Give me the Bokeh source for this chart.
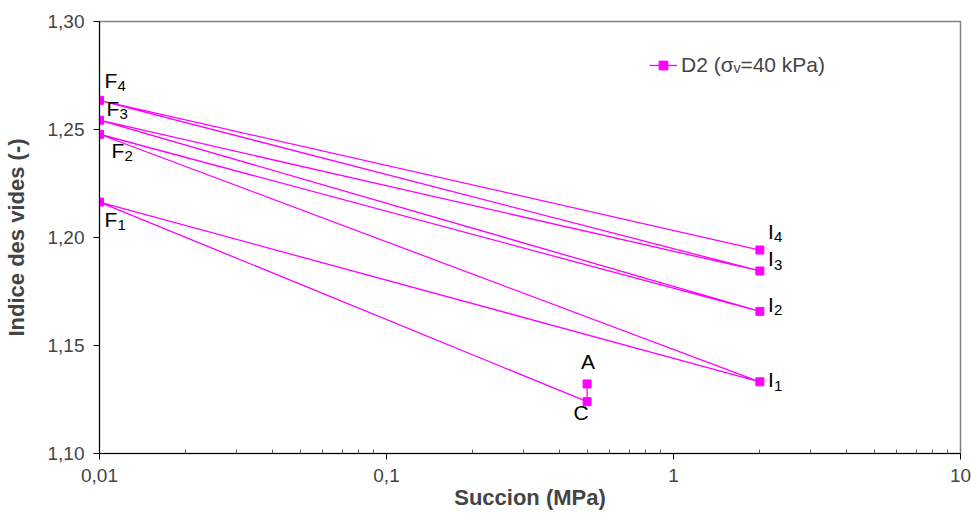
from bokeh.plotting import figure
from bokeh.models import (FixedTicker, CustomJSTickFormatter, ColumnDataSource,
                          Legend, LegendItem)
from bokeh.core.properties import value
from bokeh.embed import file_html
from bokeh.resources import INLINE

# ---- data (path order: A, C, F1, I1, F2, I2, F3, I3, F4, I4) ----
succion = [0.5, 0.5, 0.01, 2.0, 0.01, 2.0, 0.01, 2.0, 0.01, 2.0]
indice = [1.1322, 1.1240, 1.2164, 1.1332, 1.2478, 1.1658, 1.2543, 1.1845, 1.2635, 1.1942]
point_main = ["A", "C", "F", "I", "F", "I", "F", "I", "F", "I"]
point_sub = ["", "", "1", "1", "2", "2", "3", "3", "4", "4"]
series_name = "D2 (σᵥ=40 kPa)"

x_ticks = [0.01, 0.1, 1, 10]
y_ticks = [1.10, 1.15, 1.20, 1.25, 1.30]

# label placement (screen px offsets of main letter)
lab_dx = [1, -6, 5, 8, 12, 8, 7, 8, 5, 8]
lab_dy = [-22, 11, 17, -2, 16, -7, -12, -12, -20, -19]
lab_align = ["center", "center", "left", "left", "left", "left", "left", "left", "left", "left"]
main_w = {"A": 0, "C": 0, "F": 13, "I": 6}

FONT = "Liberation Sans"
MAG = "#FF00FF"

p = figure(width=971, height=516, x_axis_type="log", x_range=(0.01, 10),
           y_range=(1.10, 1.30), output_backend="svg", toolbar_location=None,
           min_border_left=98, min_border_right=11, min_border_top=21,
           min_border_bottom=63)

src = ColumnDataSource(dict(x=succion, y=indice))
ln = p.line("x", "y", source=src, line_color=MAG, line_width=1.3)
sq = p.scatter("x", "y", source=src, marker="square", size=8, fill_color=MAG,
               line_color=MAG)

# labels
main_src = ColumnDataSource(dict(
    x=succion, y=indice, t=point_main, dx=lab_dx, dy=lab_dy, al=lab_align))
p.text("x", "y", text="t", source=main_src, x_offset="dx", y_offset="dy",
       text_align="al", text_baseline="alphabetic", text_font=value(FONT),
       text_font_size="21px", text_color="black")
sub_dx = [d + main_w[m] for d, m in zip(lab_dx, point_main)]
sub_dy = [d + 6 for d in lab_dy]
sub_src = ColumnDataSource(dict(x=succion, y=indice, t=point_sub, dx=sub_dx, dy=sub_dy))
p.text("x", "y", text="t", source=sub_src, x_offset="dx", y_offset="dy",
       text_align="left", text_baseline="alphabetic", text_font=value(FONT),
       text_font_size="15px", text_color="black")

# axes
p.xaxis.ticker = FixedTicker(ticks=x_ticks,
                             minor_ticks=[m * d for d in [0.01, 0.1, 1] for m in range(2, 10)])
p.xaxis.formatter = CustomJSTickFormatter(code="return String(tick).replace('.', ',');")
p.yaxis.ticker = FixedTicker(ticks=y_ticks, minor_ticks=[])
p.yaxis.formatter = CustomJSTickFormatter(code="return tick.toFixed(2).replace('.', ',');")

p.xaxis.axis_label = "Succion (MPa)"
p.yaxis.axis_label = "Indice des vides (-)"
for ax in (p.xaxis[0], p.yaxis[0]):
    ax.axis_label_text_font = FONT
    ax.axis_label_text_font_style = "bold"
    ax.axis_label_text_font_size = "22px"
    ax.major_label_text_font = FONT
    ax.major_label_text_font_size = "19px"
    ax.axis_line_color = "black"
    ax.major_tick_line_color = "black"
    ax.minor_tick_line_color = "#555555"
    ax.major_tick_out = 6
    ax.major_tick_in = 0
p.xaxis.minor_tick_in = 4
p.xaxis.minor_tick_out = 0
p.xaxis.major_label_standoff = 9
p.xaxis.axis_label_standoff = 0
p.yaxis.major_label_standoff = 9
p.yaxis.axis_label_standoff = 16

p.xgrid.visible = False
p.ygrid.visible = False
p.outline_line_color = "#808080"
p.outline_line_width = 1.5

legend = Legend(items=[LegendItem(label=series_name, renderers=[ln, sq])],
                location=(550, 376), padding=0, margin=0,
                border_line_alpha=0, background_fill_alpha=0,
                glyph_width=28, glyph_height=22, label_height=22,
                label_standoff=4, label_text_font=FONT,
                label_text_font_size="21px")
p.add_layout(legend)

open("out.html", "w").write(file_html(p, INLINE))
